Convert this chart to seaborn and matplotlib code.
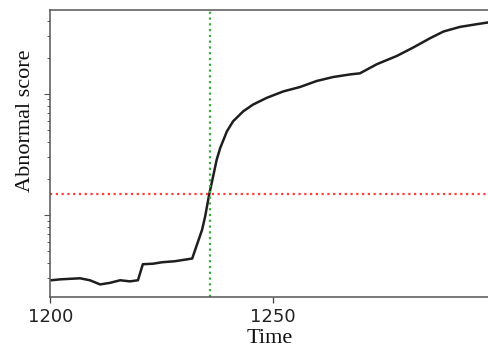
import numpy as np
import pandas as pd
import matplotlib
matplotlib.use("Agg")
import matplotlib.pyplot as plt
import seaborn as sns
from matplotlib.ticker import LogLocator, NullFormatter, FixedLocator

# ---- data ----
time = [1200.2, 1202.2, 1204.4, 1206.7, 1208.9, 1211.2, 1213.4, 1215.7, 1217.9,
        1219.7, 1220.8, 1223.1, 1225.1, 1228.0, 1231.9, 1232.8, 1234.1, 1234.8,
        1235.7, 1236.6, 1237.4, 1238.2, 1239.7, 1241.1, 1243.4, 1245.6, 1248.7,
        1252.4, 1256.1, 1259.9, 1263.6, 1267.4, 1269.6, 1273.4, 1277.9, 1281.6,
        1285.4, 1288.4, 1292.1, 1295.9, 1298.9]
score = [0.289, 0.294, 0.297, 0.300, 0.289, 0.267, 0.275, 0.289, 0.283,
         0.289, 0.392, 0.396, 0.407, 0.415, 0.437, 0.546, 0.751, 0.968,
         1.466, 2.08, 2.86, 3.58, 4.91, 5.95, 7.20, 8.18, 9.30,
         10.5, 11.4, 12.8, 13.8, 14.5, 14.8, 17.6, 20.6, 24.2,
         28.9, 32.8, 35.8, 37.7, 39.2]
threshold = 1.49
change_point = 1235.9
x_ticks = [1200, 1250]
x_tick_labels = ["1200", "1250"]

df = pd.DataFrame({"Time": time, "Abnormal score": score})

sns.set_theme(style="ticks")
plt.rcParams["font.family"] = ["DejaVu Sans"]

fig = plt.figure(figsize=(4.88, 3.56), dpi=100)
ax = fig.add_axes([0.1031, 0.1649, 0.9115, 0.8071])

sns.lineplot(data=df, x="Time", y="Abnormal score", ax=ax, color="#1e1e1e",
             linewidth=1.8)
ax.axhline(threshold, color="#ff3b3b", linestyle=(0, (1, 1.6)), linewidth=1.6)
ax.axvline(change_point, color="#3aab3a", linestyle=(0, (1, 1.6)), linewidth=1.6)

ax.set_yscale("log")
ax.set_ylim(0.209, 49.4)
ax.set_xlim(1200, 1300)

ax.xaxis.set_major_locator(FixedLocator(x_ticks))
ax.set_xticklabels(x_tick_labels)
ax.yaxis.set_major_locator(LogLocator(base=10))
ax.yaxis.set_minor_locator(LogLocator(base=10, subs=np.arange(2, 10)))
ax.yaxis.set_major_formatter(NullFormatter())
ax.yaxis.set_minor_formatter(NullFormatter())

ax.tick_params(axis="x", which="major", labelsize=13, length=4, width=0.9,
               color="#444444", pad=4, labelcolor="#222222")
ax.tick_params(axis="y", which="major", length=4, width=0.8, color="#555555")
ax.tick_params(axis="y", which="minor", length=2.2, width=0.7, color="#555555")

for s in ["left", "bottom", "top", "right"]:
    ax.spines[s].set_color("#555555")
    ax.spines[s].set_linewidth(1.1)

ax.set_xlabel("Time", fontsize=16, family=["Liberation Serif"], color="#111111")
ax.set_ylabel("Abnormal score", fontsize=16, family=["Liberation Serif"], color="#111111")
ax.xaxis.set_label_coords(0.494, -0.110)
ax.yaxis.set_label_coords(-0.034, 0.614)

fig.savefig("out.png", dpi=100)
